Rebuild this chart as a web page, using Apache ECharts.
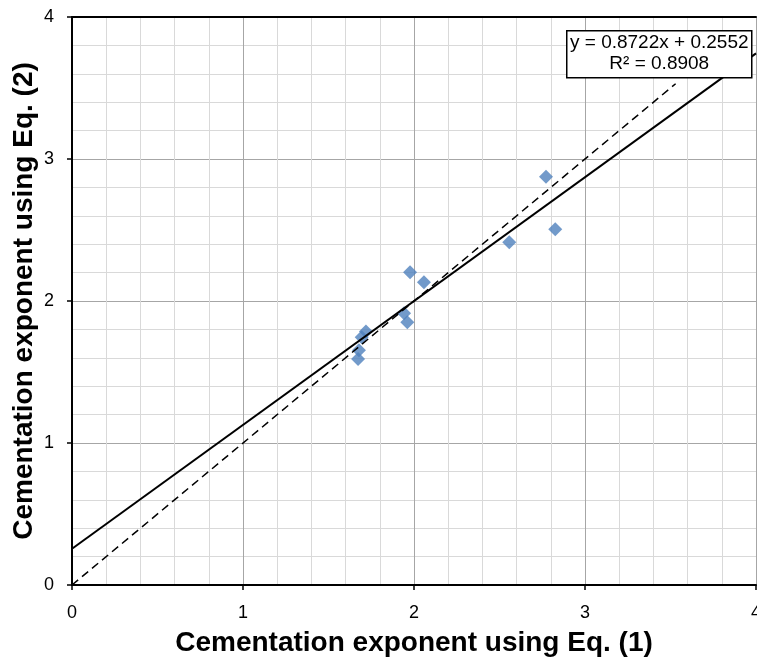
<!DOCTYPE html>
<html>
<head>
<meta charset="utf-8">
<script src="https://cdn.jsdelivr.net/npm/echarts@6/dist/echarts.min.js"></script>
<style>
html,body{margin:0;padding:0;background:#fff;}
#chart{width:757px;height:658px;}
</style>
</head>
<body>
<div id="chart"></div>
<script>
// measured points: Eq.(1) vs Eq.(2)
var eq1 = [2.772, 2.826, 2.557, 1.977, 2.058, 1.942, 1.961, 1.719, 1.694, 1.678, 1.673];
var eq2 = [2.875, 2.505, 2.414, 2.202, 2.132, 1.913, 1.850, 1.786, 1.745, 1.653, 1.592];
// linear trend and 1:1 line
var slope = 0.8722;
var intercept = 0.2552;
var trendX = [0, 4];
var oneToOne = [0, 3.53];
var eqText = 'y = 0.8722x + 0.2552';
var r2Text = 'R² = 0.8908';

var points = [];
for (var i = 0; i < eq1.length; i++) {
	points.push([eq1[i], eq2[i]]);
}
var trend = [];
for (var i = 0; i < trendX.length; i++) {
	trend.push([trendX[i], slope * trendX[i] + intercept]);
}
var diag = [];
for (var i = 0; i < oneToOne.length; i++) {
	diag.push([oneToOne[i], oneToOne[i]]);
}

var font = 'Arial, "Liberation Sans", sans-serif';

function valueAxis(pos, name, gap, margin){
	return {
		type: 'value',
		position: pos,
		min: 0,
		max: 4,
		interval: 1,
		name: name,
		nameLocation: 'middle',
		nameGap: gap,
		nameMoveOverlap: false,
		nameTextStyle: {color: '#000', fontSize: 28, fontWeight: 'bold', fontFamily: font},
		axisLine: {show: true, onZero: false, lineStyle: {color: '#000', width: 2}},
		axisTick: {show: true, inside: false, length: 5, lineStyle: {color: '#000', width: 1.5}},
		minorTick: {show: true, splitNumber: 5, length: 0},
		splitLine: {show: true, lineStyle: {color: '#a6a6a6', width: 1}},
		minorSplitLine: {show: true, lineStyle: {color: '#d9d9d9', width: 1}},
		axisLabel: {color: '#000', fontSize: 18, fontFamily: font, margin: margin}
	};
}

var chart = echarts.init(document.getElementById('chart'));
chart.setOption({
	animation: false,
	backgroundColor: '#fff',
	grid: {left: 72, right: 1, top: 17, bottom: 73, containLabel: false, outerBoundsMode: 'none'},
	xAxis: [valueAxis('bottom', 'Cementation exponent using Eq. (1)', 44, 19), {
		type: 'value', position: 'top', min: 0, max: 4,
		axisLine: {show: true, onZero: false, lineStyle: {color: '#000', width: 2}},
		axisTick: {show: false}, axisLabel: {show: false}, splitLine: {show: false}
	}],
	yAxis: [valueAxis('left', 'Cementation exponent using Eq. (2)', 34, 18)],
	series: [
		{
			type: 'scatter',
			data: points,
			symbol: 'diamond',
			symbolSize: 14,
			itemStyle: {color: '#4f81bd'},
			z: 2
		},
		{
			type: 'line',
			data: trend,
			showSymbol: false,
			symbol: 'none',
			lineStyle: {color: '#000', width: 2},
			z: 3
		},
		{
			type: 'line',
			data: diag,
			showSymbol: false,
			symbol: 'none',
			lineStyle: {color: '#000', width: 1.5, type: [8, 5]},
			z: 3
		}
	],
	graphic: [
		{
			type: 'group',
			left: 566,
			top: 30,
			z: 100,
			children: [
				{type: 'rect', z: 100, shape: {x: 0, y: 0, width: 185, height: 47},
					style: {fill: '#fff', stroke: '#000', lineWidth: 1.5}},
				{type: 'text', z: 101, x: 92.5, y: 3,
					style: {text: eqText, fill: '#000', font: '19px ' + font, textAlign: 'center'}},
				{type: 'text', z: 101, x: 92.5, y: 24,
					style: {text: r2Text, fill: '#000', font: '19px ' + font, textAlign: 'center'}}
			]
		}
	]
});
</script>
</body>
</html>
